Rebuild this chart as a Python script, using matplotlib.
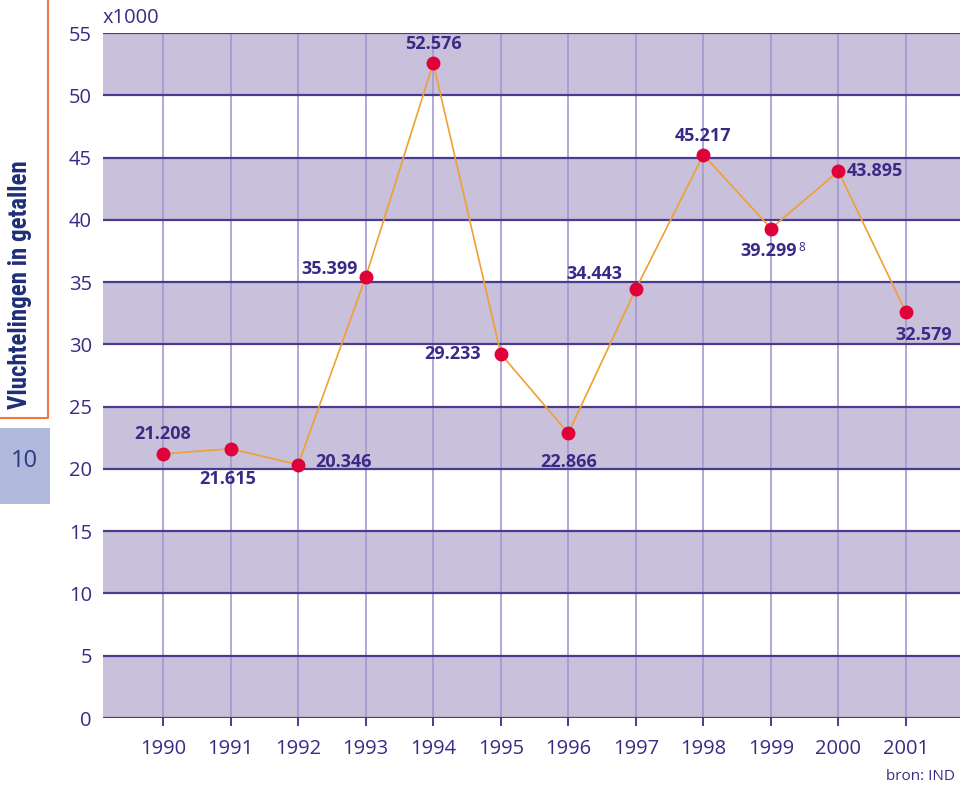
import matplotlib

matplotlib.use("Agg")

import matplotlib.pyplot as plt

plt.rcParams["font.family"] = ["Open Sans", "DejaVu Sans"]

years = [1990, 1991, 1992, 1993, 1994, 1995, 1996, 1997, 1998, 1999, 2000, 2001]
values = [21.208, 21.615, 20.346, 35.399, 52.576, 29.233, 22.866, 34.443, 45.217, 39.299, 43.895, 32.579]
labels = ["21.208", "21.615", "20.346", "35.399", "52.576", "29.233", "22.866",
          "34.443", "45.217", "39.299", "43.895", "32.579"]
# label offsets in points (dx, dy) and alignment
offsets = [(0, 8, "center", "bottom"), (-2, -15, "center", "top"), (12, 2, "left", "center"),
           (-6, 6, "right", "center"), (0, 7, "center", "bottom"), (-14, 0, "right", "center"),
           (0, -14, "center", "top"), (-10, 11, "right", "center"), (0, 7, "center", "bottom"),
           (-2, -10, "center", "top"), (6, 0, "left", "center"), (13, -10, "center", "top")]
yticks = list(range(0, 60, 5))

TXT = "#3a2a86"
BAND = "#c9c0dc"
HLINE = "#4a3a90"
VLINE = "#a598cf"

fig = plt.figure(figsize=(9.6, 7.86), dpi=100)
ax = fig.add_axes([103 / 960, 1 - 718 / 786, 1 - 103 / 960, (718 - 33) / 786])

for lo in range(0, 55, 10):
    ax.axhspan(lo, lo + 5, color=BAND, lw=0, zorder=0)
for y in yticks:
    ax.axhline(y, color=HLINE, lw=1.6, zorder=2)
for x in years:
    ax.axvline(x, color=VLINE, lw=1.2, zorder=1)

ax.plot(years, values, color="#f0a030", lw=1.2, zorder=3)
ax.plot(years, values, "o", color="#e0003a", markersize=9, zorder=4)

for x, v, lab, (dx, dy, ha, va) in zip(years, values, labels, offsets):
    ax.annotate(lab, (x, v), xytext=(dx, dy), textcoords="offset points",
                ha=ha, va=va, fontsize=13, fontweight="bold", color=TXT, zorder=5)
ax.annotate("8", (1999, 39.299), xytext=(19.5, -9), textcoords="offset points",
            ha="left", va="top", fontsize=8.5, color=TXT)

ax.set_xlim(1989.11, 2001.8)
ax.set_ylim(0, 55)
ax.set_xticks(years)
ax.set_xticklabels([str(y) for y in years])
ax.set_yticks(yticks)
for s in ax.spines.values():
    s.set_visible(False)
ax.tick_params(axis="x", direction="out", length=6, width=1.4, color=HLINE,
               labelcolor=TXT, labelsize=14.5, pad=9)
ax.tick_params(axis="y", length=0, labelcolor=TXT, labelsize=14.5, pad=8)

fig.text(103 / 960, 1 - 18 / 786, "x1000", color=TXT, fontsize=14.5, ha="left", va="center")
fig.text(955 / 960, 1 - 777 / 786, "bron: IND", color=TXT, fontsize=11, ha="right", va="center")

# side bar
fig.add_artist(plt.Line2D([48 / 960, 48 / 960, 0], [1, 1 - 418 / 786, 1 - 418 / 786],
                          transform=fig.transFigure, color="#f07840", lw=1.5))
fig.add_artist(plt.Rectangle((0, 1 - 504 / 786), 50 / 960, 76 / 786,
                             transform=fig.transFigure, color="#b0b8dc", lw=0))
fig.text(24 / 960, 1 - 461 / 786, "10", color="#2a3a80", fontsize=17, ha="center", va="center")
fig.text(20 / 960, 1 - 285 / 786, "Vluchtelingen in getallen", rotation=90,
         family=["Liberation Sans Narrow", "Roboto Condensed", "DejaVu Sans"],
         fontweight="bold", fontstretch="condensed",
         color="#1e2e78", fontsize=18, ha="center", va="center")

plt.savefig("out.png", dpi=100)
